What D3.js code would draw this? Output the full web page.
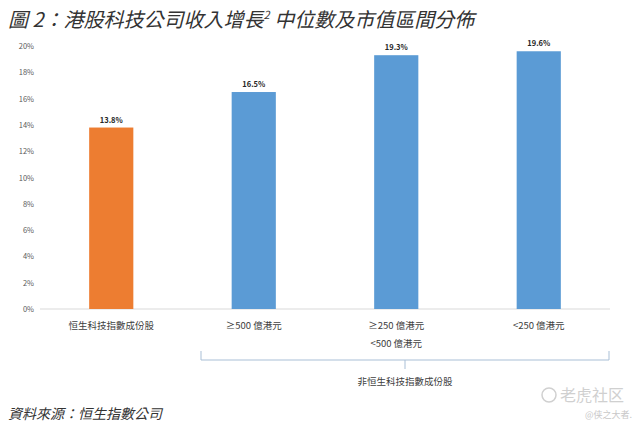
<!DOCTYPE html>
<html>
<head>
<meta charset="utf-8">
<title>港股科技公司收入增長</title>
<script src="https://d3js.org/d3.v7.min.js"></script>
<style>
body { margin: 0; background: #fff; }
text { font-family: "Noto Sans CJK TC", "Noto Sans", sans-serif; }
</style>
</head>
<body>
<div id="chart"></div>
<script>
var categories = ["恒生科技指數成份股", "≥500 億港元", "≥250 億港元|<500 億港元", "<250 億港元"];
var values = [13.8, 16.5, 19.3, 19.6];
var barColors = ["#ED7D31", "#5B9BD5", "#5B9BD5", "#5B9BD5"];
var yTicks = [0, 2, 4, 6, 8, 10, 12, 14, 16, 18, 20];
var groupLabel = "非恒生科技指數成份股";

var width = 638, height = 431;
var svg = d3.select("#chart").append("svg")
  .attr("width", width)
  .attr("height", height);

var x = d3.scaleBand().domain(categories).range([40, 610]).paddingInner(0.69).paddingOuter(0.345);
var y = d3.scaleLinear().domain([0, 20]).range([309, 46]);

// title
var title = svg.append("text")
  .attr("x", 8).attr("y", 27)
  .attr("font-size", 20).attr("font-style", "italic")
  .attr("fill", "#333");
title.append("tspan").text("圖 2：港股科技公司收入增長");
title.append("tspan").attr("font-size", 11).attr("dy", -8).text("2");
title.append("tspan").attr("dy", 8).text(" 中位數及市值區間分佈");

// y axis labels
svg.selectAll(".ytick")
  .data(yTicks)
  .enter()
  .append("text")
  .attr("x", 34)
  .attr("y", function(d) { return y(d) + 3; })
  .attr("text-anchor", "end")
  .attr("font-size", 7.5)
  .attr("fill", "#595959")
  .text(function(d) { return d + "%"; });

// baseline
svg.append("line")
  .attr("x1", 40).attr("x2", 610)
  .attr("y1", y(0)).attr("y2", y(0))
  .attr("stroke", "#d9d9d9").attr("stroke-width", 1);

// bars
svg.selectAll(".bar")
  .data(values)
  .enter()
  .append("rect")
  .attr("x", function(d, i) { return x(categories[i]); })
  .attr("y", function(d) { return y(d); })
  .attr("width", x.bandwidth())
  .attr("height", function(d) { return y(0) - y(d); })
  .attr("fill", function(d, i) { return barColors[i]; });

// value labels
svg.selectAll(".val")
  .data(values)
  .enter()
  .append("text")
  .attr("x", function(d, i) { return x(categories[i]) + x.bandwidth() / 2; })
  .attr("y", function(d) { return y(d) - 5; })
  .attr("text-anchor", "middle")
  .attr("font-size", 7.5).attr("font-weight", "bold")
  .attr("fill", "#262626")
  .text(function(d) { return d.toFixed(1) + "%"; });

// category labels
categories.forEach(function(c) {
  var lines = c.split("|");
  var cx = x(c) + x.bandwidth() / 2;
  lines.forEach(function(l, j) {
    svg.append("text")
      .attr("x", cx)
      .attr("y", 329 + j * 17.5)
      .attr("text-anchor", "middle")
      .attr("font-size", 9.5)
      .attr("fill", "#404040")
      .text(l);
  });
});

// bracket for non-index groups
var bx1 = 201, bx2 = 609, bTop = 351, bY = 360;
var bMid = (bx1 + bx2) / 2;
svg.append("path")
  .attr("d", "M" + bx1 + "," + bTop + "V" + bY + "H" + bx2 + "V" + bTop + "M" + bMid + "," + bY + "V" + (bY + 9))
  .attr("fill", "none")
  .attr("stroke", "#a9bfd6").attr("stroke-width", 1);
svg.append("text")
  .attr("x", bMid).attr("y", 385)
  .attr("text-anchor", "middle")
  .attr("font-size", 9.5).attr("fill", "#404040")
  .text(groupLabel);

// source
svg.append("text")
  .attr("x", 8).attr("y", 419)
  .attr("font-size", 14).attr("font-style", "italic")
  .attr("fill", "#333")
  .text("資料來源：恒生指數公司");

// watermark
svg.append("circle")
  .attr("cx", 549).attr("cy", 395).attr("r", 7)
  .attr("fill", "none").attr("stroke", "#d0d0d0").attr("stroke-width", 1.5);
svg.append("text")
  .attr("x", 560).attr("y", 401)
  .attr("font-size", 16).attr("fill", "#d0d0d0")
  .text("老虎社区");
svg.append("text")
  .attr("x", 632).attr("y", 418)
  .attr("text-anchor", "end")
  .attr("font-size", 9).attr("fill", "#c8c8c8")
  .text("@侠之大者.");
</script>
</body>
</html>
